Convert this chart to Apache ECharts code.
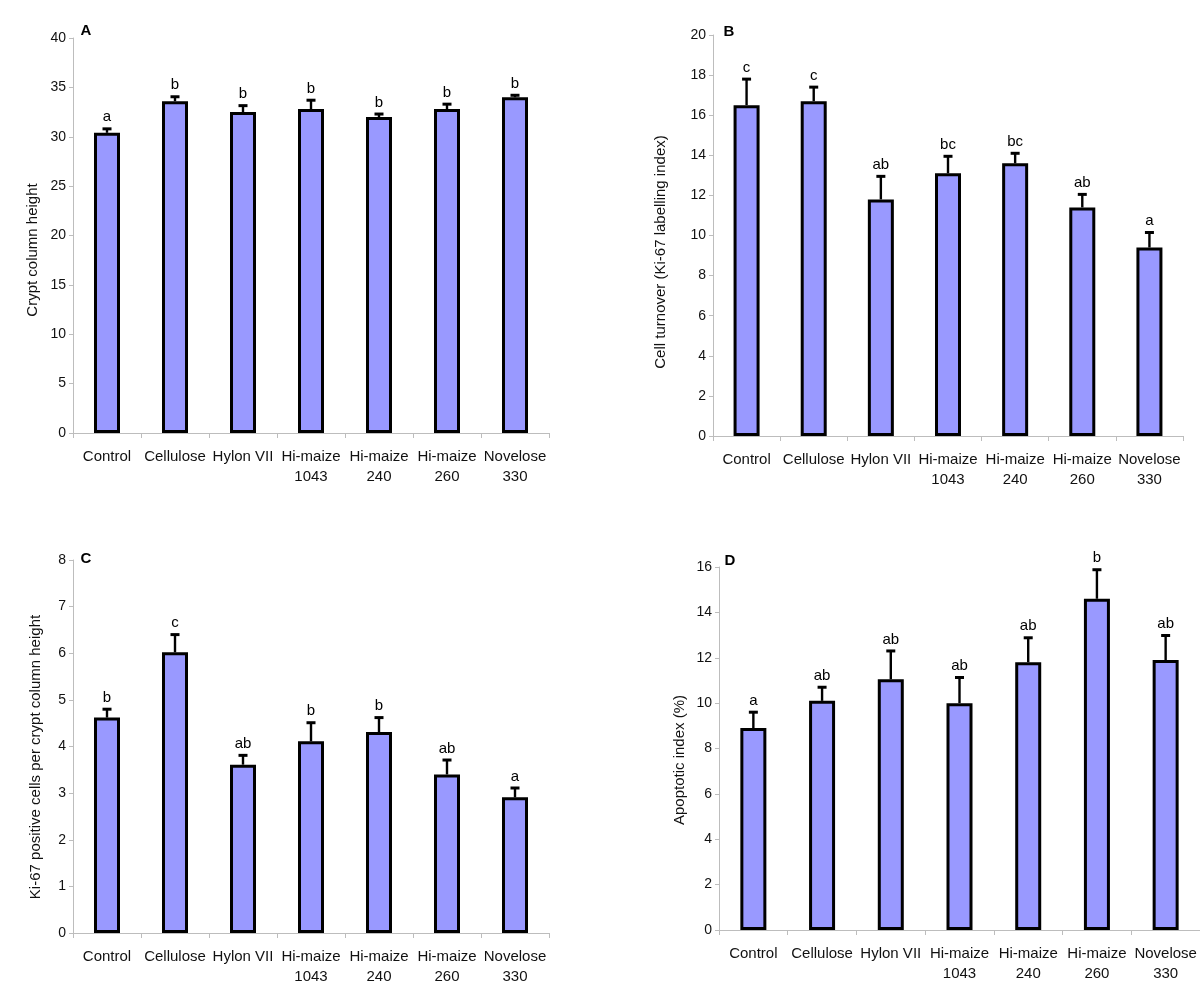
<!DOCTYPE html>
<html>
<head>
<meta charset="utf-8">
<script src="https://cdn.jsdelivr.net/npm/echarts@6/dist/echarts.min.js"></script>
<style>
  html, body { margin: 0; padding: 0; background: #fff; }
  #chart { width: 1200px; height: 991px; }
</style>
</head>
<body>
<div id="chart"></div>
<script>
var categories = ['Control', 'Cellulose', 'Hylon VII', 'Hi-maize\n1043', 'Hi-maize\n240', 'Hi-maize\n260', 'Novelose\n330'];

// A - crypt column height
var cryptMean = [30.4, 33.6, 32.5, 32.8, 32.0, 32.8, 34.0];
var cryptSem = [0.4, 0.45, 0.65, 0.9, 0.3, 0.5, 0.2];
var cryptLetters = ['a', 'b', 'b', 'b', 'b', 'b', 'b'];

// B - cell turnover
var turnoverMean = [16.5, 16.7, 11.8, 13.1, 13.6, 11.4, 9.4];
var turnoverSem = [1.3, 0.7, 1.15, 0.85, 0.5, 0.65, 0.75];
var turnoverLetters = ['c', 'c', 'ab', 'bc', 'bc', 'ab', 'a'];

// C - Ki-67 positive cells per crypt column height
var ki67Mean = [4.62, 6.02, 3.61, 4.11, 4.31, 3.40, 2.91];
var ki67Sem = [0.18, 0.38, 0.2, 0.4, 0.31, 0.31, 0.2];
var ki67Letters = ['b', 'c', 'ab', 'b', 'b', 'ab', 'a'];

// D - apoptotic index
var apoMean = [8.9, 10.1, 11.05, 10.0, 11.8, 14.6, 11.9];
var apoSem = [0.7, 0.6, 1.25, 1.13, 1.08, 1.28, 1.08];
var apoLetters = ['a', 'ab', 'ab', 'ab', 'ab', 'b', 'ab'];

var FONT = '"Liberation Sans", Arial, sans-serif';

var panels = [
  { letter: 'A', mean: cryptMean, sem: cryptSem, letters: cryptLetters, max: 40, interval: 5,
    grid: { left: 73, top: 38, width: 476, height: 395 }, title: 'Crypt column height',
    titlePos: [33, 250], letterPos: [86, 31] },
  { letter: 'B', mean: turnoverMean, sem: turnoverSem, letters: turnoverLetters, max: 20, interval: 2,
    grid: { left: 713, top: 35, width: 470, height: 401 }, title: 'Cell turnover (Ki-67 labelling index)',
    titlePos: [661, 252], letterPos: [729, 32] },
  { letter: 'C', mean: ki67Mean, sem: ki67Sem, letters: ki67Letters, max: 8, interval: 1,
    grid: { left: 73, top: 560, width: 476, height: 373 }, title: 'Ki-67 positive cells per crypt column height',
    titlePos: [36, 757], letterPos: [86, 559] },
  { letter: 'D', mean: apoMean, sem: apoSem, letters: apoLetters, max: 16, interval: 2,
    grid: { left: 719, top: 567, width: 481, height: 363 }, title: 'Apoptotic index (%)',
    titlePos: [680, 760], letterPos: [730, 561] }
];

function errorBars(letters) {
  return function (params, api) {
    var i = api.value(0), m = api.value(1), e = api.value(2);
    var base = api.coord([i, m]);
    var top = api.coord([i, m + e]);
    return {
      type: 'group',
      children: [
        { type: 'line', shape: { x1: base[0], y1: base[1], x2: top[0], y2: top[1] },
          style: { stroke: '#000', lineWidth: 2.4 } },
        { type: 'line', shape: { x1: top[0] - 4.5, y1: top[1], x2: top[0] + 4.5, y2: top[1] },
          style: { stroke: '#000', lineWidth: 3 } },
        { type: 'text', x: top[0], y: top[1] - 4,
          style: { text: letters[i], textAlign: 'center', textVerticalAlign: 'bottom',
                   font: '15px ' + FONT, fill: '#000' } }
      ]
    };
  };
}

var option = {
  animation: false,
  backgroundColor: '#fff',
  grid: [], xAxis: [], yAxis: [], series: [], graphic: []
};

panels.forEach(function (p, k) {
  option.grid.push(p.grid);
  option.xAxis.push({
    type: 'category', gridIndex: k, data: categories,
    axisLine: { lineStyle: { color: '#bdbdbd', width: 1 } },
    axisTick: { show: true, length: 5, alignWithLabel: false, lineStyle: { color: '#bdbdbd' } },
    axisLabel: { interval: 0, color: '#111', fontFamily: FONT, fontSize: 15, lineHeight: 20, margin: 14 }
  });
  option.yAxis.push({
    type: 'value', gridIndex: k, min: 0, max: p.max, interval: p.interval,
    splitLine: { show: false },
    axisLine: { show: true, lineStyle: { color: '#bdbdbd', width: 1 } },
    axisTick: { show: true, length: 4, lineStyle: { color: '#bdbdbd' } },
    axisLabel: { color: '#111', fontFamily: FONT, fontSize: 14, margin: 7 }
  });
  option.series.push({
    type: 'bar', xAxisIndex: k, yAxisIndex: k, data: p.mean, barWidth: 26,
    itemStyle: { color: '#9999ff', borderColor: '#000', borderWidth: 3 }
  });
  option.series.push({
    type: 'custom', xAxisIndex: k, yAxisIndex: k,
    data: p.mean.map(function (m, i) { return [i, m, p.sem[i]]; }),
    encode: { x: 0, y: 1 },
    renderItem: errorBars(p.letters), z: 3
  });
  option.graphic.push({
    type: 'text', x: p.titlePos[0], y: p.titlePos[1], rotation: Math.PI / 2,
    style: { text: p.title, font: '15px ' + FONT, fill: '#111', textAlign: 'center', textVerticalAlign: 'middle' }
  });
  option.graphic.push({
    type: 'text', x: p.letterPos[0], y: p.letterPos[1],
    style: { text: p.letter, font: 'bold 15px ' + FONT, fill: '#000', textAlign: 'center', textVerticalAlign: 'middle' }
  });
});

var myChart = echarts.init(document.getElementById('chart'));
myChart.setOption(option);
</script>
</body>
</html>
